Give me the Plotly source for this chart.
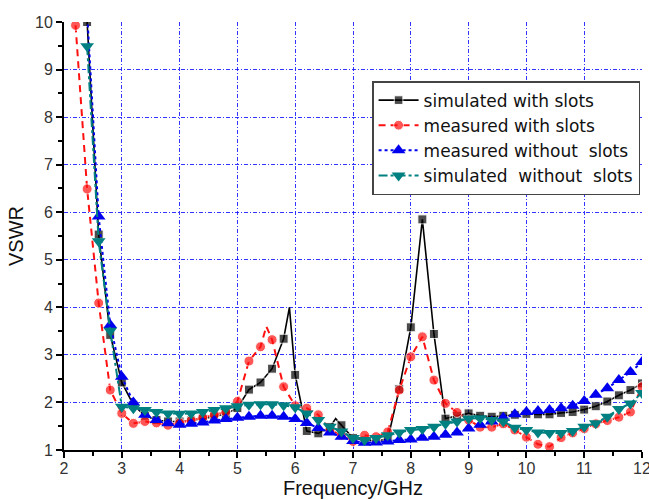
import plotly.graph_objects as go

# ---------------- data ----------------
x_sim_slots = [2.4, 2.6, 2.8, 3.0, 3.2, 3.4, 3.6, 3.8, 4.0, 4.2, 4.4, 4.6, 4.8, 5.0,
               5.2, 5.4, 5.6, 5.8, 5.9, 6.0, 6.2, 6.4, 6.6, 6.7, 6.8, 7.0, 7.2, 7.4,
               7.6, 7.8, 8.0, 8.2, 8.4, 8.6, 8.8, 9.0, 9.2, 9.4, 9.6, 9.8, 10.0, 10.2,
               10.4, 10.6, 10.8, 11.0, 11.2, 11.4, 11.6, 11.8, 12.0]
y_sim_slots = [10.0, 5.53, 3.42, 2.42, 1.95, 1.72, 1.63, 1.6, 1.6, 1.62, 1.66, 1.7, 1.76, 1.88,
               2.27, 2.42, 2.71, 3.34, 4.0, 2.58, 1.4, 1.35, 1.48, 1.66, 1.52, 1.25, 1.2, 1.2,
               1.22, 2.28, 3.58, 5.85, 3.44, 1.66, 1.72, 1.77, 1.72, 1.7, 1.72, 1.74, 1.76, 1.75,
               1.75, 1.78, 1.8, 1.85, 1.92, 2.02, 2.15, 2.26, 2.4]
hidden_sim_slots = [5.9, 6.7]

x_meas_slots = [2.2, 2.4, 2.6, 2.8, 3.0, 3.2, 3.4, 3.6, 3.8, 4.0, 4.2, 4.4, 4.6, 4.8, 5.0,
                5.2, 5.4, 5.5, 5.6, 5.8, 6.0, 6.2, 6.4, 6.6, 6.8, 7.0, 7.2, 7.4, 7.6, 7.8,
                8.0, 8.2, 8.4, 8.6, 8.8, 9.0, 9.2, 9.4, 9.6, 9.8, 10.0, 10.2, 10.4, 10.6,
                10.8, 11.0, 11.2, 11.4, 11.6, 11.8, 12.0]
y_meas_slots = [9.93, 6.49, 4.09, 2.26, 1.77, 1.56, 1.6, 1.57, 1.52, 1.57, 1.62, 1.68, 1.74, 1.8, 2.02,
                2.87, 3.17, 3.6, 3.32, 2.33, 1.93, 1.88, 1.74, 1.42, 1.31, 1.18, 1.31, 1.28, 1.38, 2.26,
                2.96, 3.38, 2.47, 1.98, 1.79, 1.63, 1.48, 1.48, 1.55, 1.42, 1.27, 1.12, 1.07, 1.26,
                1.36, 1.45, 1.55, 1.62, 1.69, 1.8, 2.33]
hidden_meas_slots = [5.5]

x_grid = [2.4, 2.6, 2.8, 3.0, 3.2, 3.4, 3.6, 3.8, 4.0, 4.2, 4.4, 4.6, 4.8, 5.0, 5.2, 5.4,
          5.6, 5.8, 6.0, 6.2, 6.4, 6.6, 6.8, 7.0, 7.2, 7.4, 7.6, 7.8, 8.0, 8.2, 8.4, 8.6,
          8.8, 9.0, 9.2, 9.4, 9.6, 9.8, 10.0, 10.2, 10.4, 10.6, 10.8, 11.0, 11.2, 11.4,
          11.6, 11.8, 12.0]
y_meas_noslots = [10.2, 5.91, 3.63, 2.54, 2.0, 1.74, 1.63, 1.56, 1.53, 1.55, 1.58, 1.62, 1.65, 1.68, 1.7, 1.72,
                  1.72, 1.7, 1.65, 1.57, 1.46, 1.37, 1.28, 1.19, 1.15, 1.16, 1.18, 1.21, 1.22, 1.26, 1.28, 1.32,
                  1.37, 1.45, 1.53, 1.6, 1.68, 1.75, 1.8, 1.82, 1.84, 1.88, 1.93, 2.03, 2.16, 2.3,
                  2.47, 2.64, 2.85]
y_sim_noslots = [9.49, 5.39, 3.51, 1.91, 1.88, 1.84, 1.8, 1.77, 1.76, 1.77, 1.8, 1.84, 1.88, 1.92, 1.95, 1.96,
                 1.96, 1.94, 1.9, 1.77, 1.63, 1.49, 1.39, 1.25, 1.21, 1.25, 1.31, 1.37, 1.42, 1.44, 1.49, 1.55,
                 1.6, 1.66, 1.67, 1.63, 1.6, 1.47, 1.42, 1.37, 1.36, 1.36, 1.4, 1.49, 1.56, 1.7,
                 1.86, 1.98, 2.2]

names = ["simulated with slots", "measured with slots",
         "measured without  slots", "simulated  without  slots"]

x_ticks = [2, 3, 4, 5, 6, 7, 8, 9, 10, 11, 12]
y_ticks = [1, 2, 3, 4, 5, 6, 7, 8, 9, 10]

# ---------------- figure ----------------
def sizes(xs, hidden, s):
    return [0 if x in hidden else s for x in xs]

fig = go.Figure()
fig.add_trace(go.Scatter(
    x=x_sim_slots, y=y_sim_slots, name=names[0], mode="lines+markers",
    line=dict(color="black", width=1.6),
    marker=dict(symbol="square", color="black", size=sizes(x_sim_slots, hidden_sim_slots, 9))))
fig.add_trace(go.Scatter(
    x=x_meas_slots, y=y_meas_slots, name=names[1], mode="lines+markers",
    line=dict(color="#ff1010", width=2, dash="7px,5px"),
    marker=dict(symbol="circle", color="#ff1010", size=sizes(x_meas_slots, hidden_meas_slots, 10))))
fig.add_trace(go.Scatter(
    x=x_grid, y=y_meas_noslots, name=names[2], mode="lines+markers",
    line=dict(color="#0000ee", width=2, dash="dot"),
    marker=dict(symbol="triangle-up", color="#0000ee", size=12)))
fig.add_trace(go.Scatter(
    x=x_grid, y=y_sim_noslots, name=names[3], mode="lines+markers",
    line=dict(color="#008080", width=2, dash="dashdot"),
    marker=dict(symbol="triangle-down", color="#008080", size=12)))

grid_col = "rgba(30,30,255,0.9)"
fig.update_layout(
    width=649, height=500,
    margin=dict(l=64, r=7, t=22, b=50, autoexpand=False),
    paper_bgcolor="white", plot_bgcolor="white",
    font=dict(family="Liberation Sans, Arial, sans-serif", color="#222"),
    showlegend=True,
    legend=dict(x=0.533, y=0.862, xanchor="left", yanchor="top",
                bgcolor="white", bordercolor="#444", borderwidth=1.5,
                font=dict(family="DejaVu Sans, sans-serif", size=17, color="#111"),
                tracegroupgap=0, itemwidth=40),
    xaxis=dict(range=[2, 12], tickvals=x_ticks, ticktext=[str(t) for t in x_ticks],
               showline=True, linecolor="black", linewidth=2,
               ticks="outside", ticklen=6, tickwidth=2, tickcolor="black",
               ticklabeloverflow="allow", automargin=False, ticklabelstandoff=-3,
               minor=dict(dtick=0.5, ticks="outside", ticklen=4, tickwidth=1.5,
                          tickcolor="black", showgrid=False),
               showgrid=True, gridcolor=grid_col, gridwidth=1.2, griddash="4px,2px,1px,2px",
               zeroline=False, tickfont=dict(size=16, color="#333"),
               title=dict(text="Frequency/GHz", font=dict(size=20, color="#111"), standoff=4)),
    yaxis=dict(range=[1, 10], tickvals=y_ticks, ticktext=[str(t) for t in y_ticks],
               showline=True, linecolor="black", linewidth=2,
               ticks="outside", ticklen=6, tickwidth=2, tickcolor="black",
               automargin=False,
               minor=dict(dtick=0.5, ticks="outside", ticklen=4, tickwidth=1.5,
                          tickcolor="black", showgrid=False),
               showgrid=True, gridcolor=grid_col, gridwidth=1.2, griddash="4px,2px,1px,2px",
               zeroline=False, tickfont=dict(size=16, color="#333"),
               title=dict(text="VSWR", font=dict(size=20, color="#111"), standoff=6)),
)

fig.write_html("out.html")
